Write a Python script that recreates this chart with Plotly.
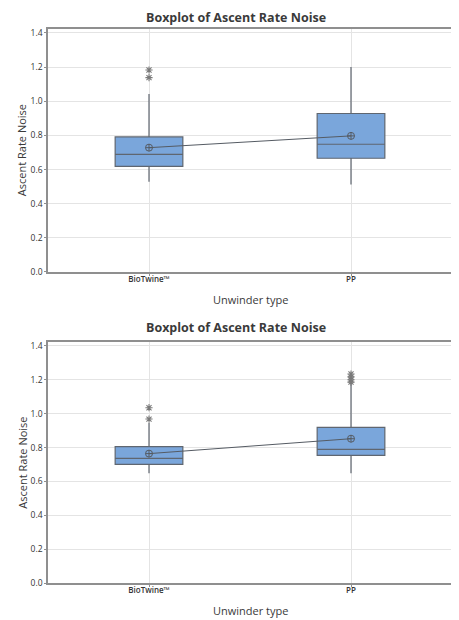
import plotly.graph_objects as go

categories = ["BioTwine™", "PP"]

# Top chart statistics
top_q1 = [0.619, 0.666]
top_median = [0.689, 0.748]
top_q3 = [0.791, 0.928]
top_lower = [0.529, 0.513]
top_upper = [1.042, 1.200]
top_mean = [0.728, 0.797]
top_out_x = ["BioTwine™", "BioTwine™"]
top_out_y = [1.183, 1.138]

# Bottom chart statistics
bot_q1 = [0.701, 0.754]
bot_median = [0.736, 0.789]
bot_q3 = [0.805, 0.919]
bot_lower = [0.648, 0.648]
bot_upper = [0.945, 1.178]
bot_mean = [0.764, 0.852]
bot_out_x = ["BioTwine™", "BioTwine™", "PP", "PP", "PP", "PP"]
bot_out_y = [1.035, 0.968, 1.234, 1.217, 1.200, 1.186]

y_ticks = [0.0, 0.2, 0.4, 0.6, 0.8, 1.0, 1.2, 1.4]
y_ticktext = ["0.0", "0.2", "0.4", "0.6", "0.8", "1.0", "1.2", "1.4"]

title_text = "Boxplot of Ascent Rate Noise"
x_title = "Unwinder type"
y_title = "Ascent Rate Noise"

FILL = "#7aa6db"
EDGE = "#5f6670"
FONT = "Open Sans, Noto Sans, DejaVu Sans, sans-serif"

fig = go.Figure()


def add_panel(q1, med, q3, lo, up, mean, ox, oy, xa, ya):
    fig.add_trace(go.Box(
        x=categories, q1=q1, median=med, q3=q3, lowerfence=lo, upperfence=up,
        boxpoints=False, fillcolor=FILL, line=dict(color=EDGE, width=1.2),
        whiskerwidth=0, width=0.335, xaxis=xa, yaxis=ya, showlegend=False,
        hoverinfo="skip",
    ))
    fig.add_trace(go.Scatter(
        x=categories, y=mean, mode="lines+markers",
        line=dict(color="#555b63", width=1),
        marker=dict(symbol="circle-cross-open", size=7, color="#555b63",
                    line=dict(width=1)),
        xaxis=xa, yaxis=ya, showlegend=False,
    ))
    fig.add_trace(go.Scatter(
        x=ox, y=oy, mode="markers",
        marker=dict(symbol="asterisk-open", size=6, color="#7a7a7a",
                    line=dict(width=1.1, color="#7a7a7a")),
        xaxis=xa, yaxis=ya, showlegend=False,
    ))


add_panel(top_q1, top_median, top_q3, top_lower, top_upper, top_mean,
          top_out_x, top_out_y, "x", "y")
add_panel(bot_q1, bot_median, bot_q3, bot_lower, bot_upper, bot_mean,
          bot_out_x, bot_out_y, "x2", "y2")

xcommon = dict(
    type="category", categoryorder="array", categoryarray=categories,
    range=[-0.5, 1.5], showgrid=True, gridcolor="#e4e4e4", gridwidth=1,
    showline=True, linecolor="#8f8f8f", linewidth=1.5, mirror=True,
    ticks="outside", ticklen=2, tickcolor="#8f8f8f", ticklabelstandoff=-3,
    tickfont=dict(family=FONT, size=8, color="#333333", weight=600),
    zeroline=False,
)
ycommon = dict(
    range=[0, 1.423], tickvals=y_ticks, ticktext=y_ticktext,
    showgrid=True, gridcolor="#e4e4e4", gridwidth=1,
    showline=True, linecolor="#8f8f8f", linewidth=1.5, mirror=True,
    ticks="outside", ticklen=2, tickcolor="#8f8f8f",
    tickfont=dict(family=FONT, size=8.5, color="#333333"), zeroline=False,
)

# The page body adds an 8px offset, so the figure is sized 8px smaller.
fig.update_layout(
    width=451, height=612,
    margin=dict(l=40, r=5, t=21, b=37),
    paper_bgcolor="white", plot_bgcolor="white",
    xaxis=dict(domain=[0, 1], anchor="y", **xcommon),
    yaxis=dict(domain=[0.5614, 1.0], anchor="x", **ycommon),
    xaxis2=dict(domain=[0, 1], anchor="y2", **xcommon),
    yaxis2=dict(domain=[0.0, 0.435], anchor="x2", **ycommon),
    font=dict(family=FONT, color="#333333"),
)

ann = []
for ty, xy, yy in [(1.0215, 0.5126, 0.7816), (0.462, -0.0505, 0.2175)]:
    ann.append(dict(text="<b>" + title_text + "</b>", x=0.466, y=ty,
                    xref="paper", yref="paper", showarrow=False,
                    xanchor="center", yanchor="middle",
                    font=dict(family=FONT, size=12.5, color="#3a3a3a")))
    ann.append(dict(text=x_title, x=0.5, y=xy, xref="paper", yref="paper",
                    showarrow=False, xanchor="center", yanchor="middle",
                    font=dict(family=FONT, size=11, color="#3a3a3a")))
    ann.append(dict(text=y_title, x=-0.064, y=yy, xref="paper", yref="paper",
                    showarrow=False, textangle=-90,
                    xanchor="center", yanchor="middle",
                    font=dict(family=FONT, size=11, color="#3a3a3a")))
fig.update_layout(annotations=ann)

fig.write_html("out.html")
